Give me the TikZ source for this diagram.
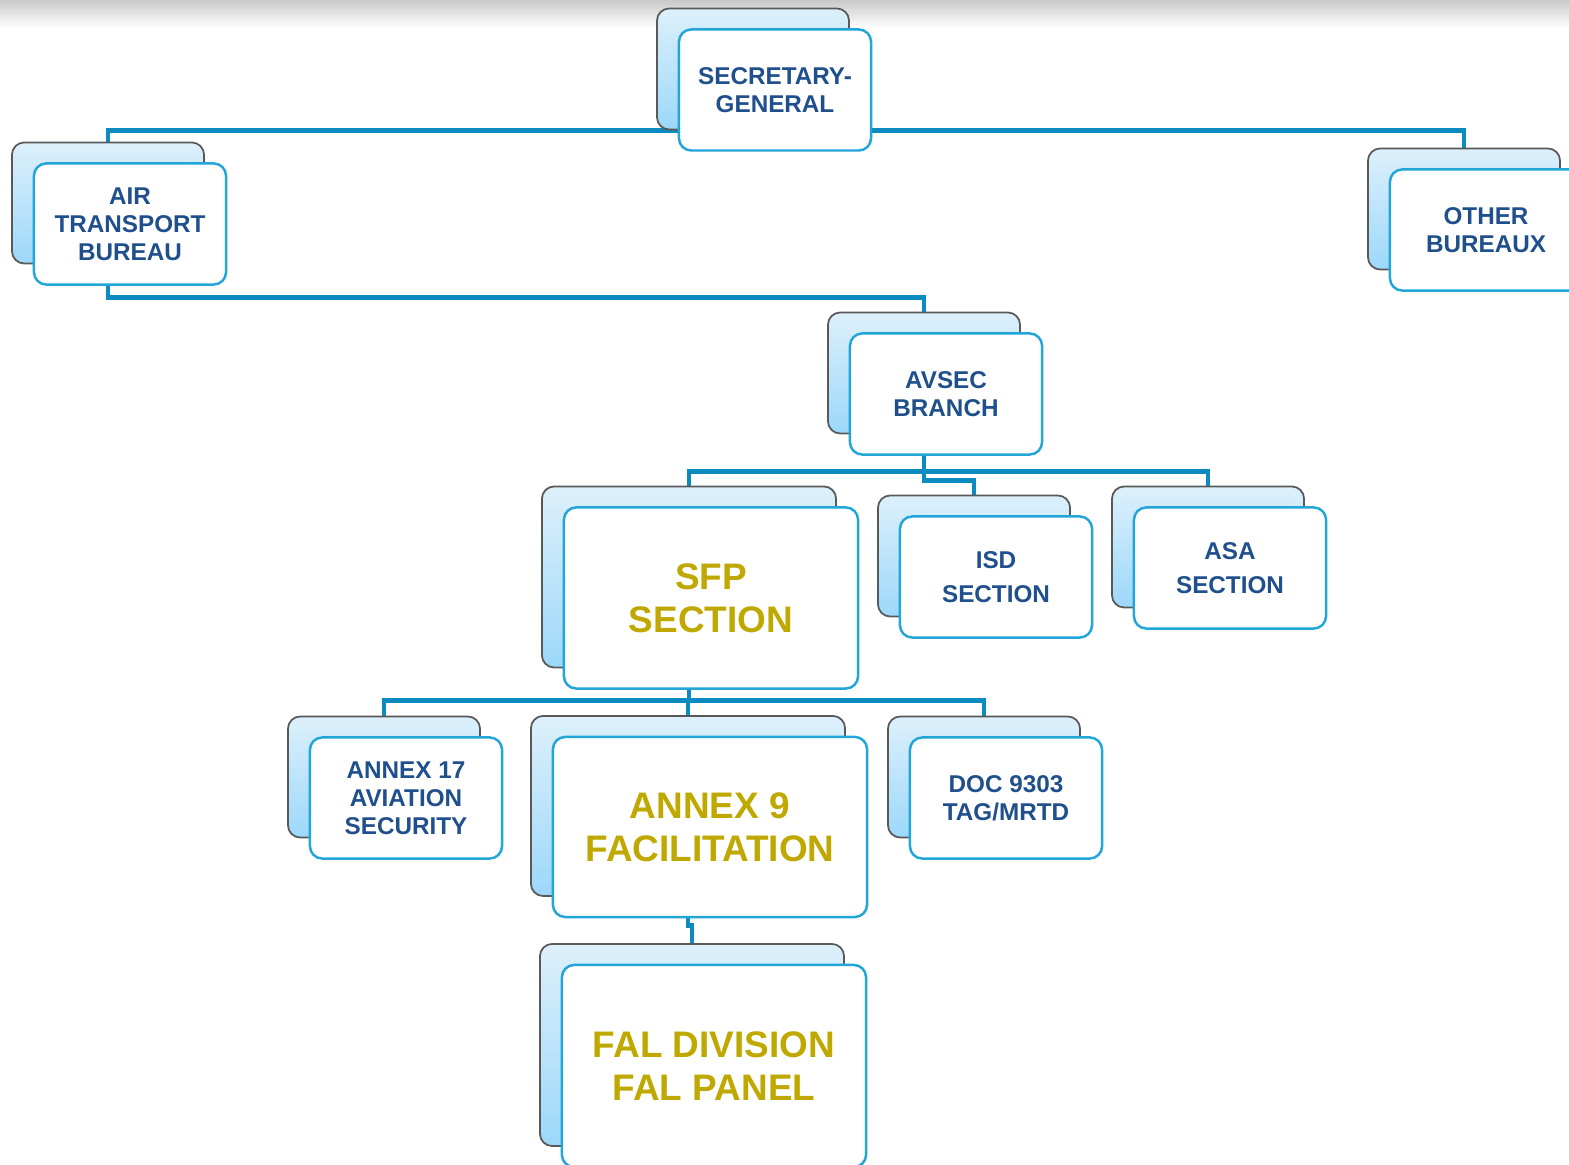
\documentclass[tikz,border=0pt]{standalone}
\usepackage{fontspec}
\setmainfont{Liberation Sans}
\usepackage{tikz}
\definecolor{linkblue}{HTML}{0B8BC0}
\definecolor{frameblue}{HTML}{22A5D8}
\definecolor{textblue}{HTML}{1F4F8C}
\definecolor{textgold}{HTML}{BFA800}
\definecolor{reartop}{HTML}{DDF0FB}
\definecolor{rearbot}{HTML}{9CD8FA}
\pgfdeclarelayer{bg}
\pgfsetlayers{bg,main}

\begin{document}
\begin{tikzpicture}[x=0.01cm,y=-0.01cm]
	\tikzstyle{rear} = [rectangle,rounded corners=3.5pt,draw=gray!70!black,line width=0.5pt,top color=reartop,bottom color=rearbot,minimum width=1.92cm,minimum height=1.21cm,inner sep=0pt]
	\tikzstyle{front} = [rectangle,rounded corners=3.5pt,draw=frameblue,line width=0.7pt,fill=white,minimum width=1.92cm,minimum height=1.21cm,inner sep=0pt,align=center,font=\fontsize{6.9}{8}\selectfont\bfseries,text=textblue]
	\tikzstyle{big} = [font=\fontsize{10.5}{12.2}\selectfont\bfseries,text=textgold]
	\tikzstyle{link} = [draw=linkblue,line width=1.4pt]
	
	\useasboundingbox (0,0) rectangle (1569,1165);
	
	\node[rear] (sgB) at (753,69) {};
	\node[front] (sg) at ([shift={(22,21)}]sgB) {SECRETARY-\\GENERAL};
	
	\node[rear] (atbB) at (108,203) {};
	\node[front] (atb) at ([shift={(22,21)}]atbB) {AIR\\TRANSPORT\\BUREAU};
	
	\node[rear] (othB) at (1464,209) {};
	\node[front] (oth) at ([shift={(22,21)}]othB) {OTHER\\BUREAUX};
	
	\node[rear] (avsB) at (924,373) {};
	\node[front] (avs) at ([shift={(22,21)}]avsB) {AVSEC\\BRANCH};
	
	\node[rear,minimum width=2.94cm,minimum height=1.81cm] (sfpB) at (689,577) {};
	\node[front,big,minimum width=2.94cm,minimum height=1.81cm] (sfp) at ([shift={(22,21)}]sfpB) {SFP\\SECTION};
	
	\node[rear] (isdB) at (974,556) {};
	\node[front,font=\fontsize{6.9}{9.8}\selectfont\bfseries] (isd) at ([shift={(22,21)}]isdB) {ISD\\SECTION};
	
	\node[rear] (asaB) at (1208,547) {};
	\node[front,font=\fontsize{6.9}{9.8}\selectfont\bfseries] (asa) at ([shift={(22,21)}]asaB) {ASA\\SECTION};
	
	\node[rear] (a17B) at (384,777) {};
	\node[front] (a17) at ([shift={(22,21)}]a17B) {ANNEX 17\\AVIATION\\SECURITY};
	
	\node[rear,minimum width=3.14cm,minimum height=1.8cm] (a9B) at (688,806) {};
	\node[front,big,minimum width=3.14cm,minimum height=1.8cm] (a9) at ([shift={(22,21)}]a9B) {ANNEX 9\\FACILITATION};
	
	\node[rear] (docB) at (984,777) {};
	\node[front] (doc) at ([shift={(22,21)}]docB) {DOC 9303\\TAG/MRTD};
	
	\node[rear,minimum width=3.04cm,minimum height=2.02cm] (falB) at (692,1045) {};
	\node[front,big,minimum width=3.04cm,minimum height=2.02cm] (fal) at ([shift={(22,21)}]falB) {FAL DIVISION\\FAL PANEL};
	
	\begin{pgfonlayer}{bg}
		\shade[top color=gray!42,bottom color=white] (0,0) rectangle (1569,28);
		\draw[link] (atbB.north) |- (sgB.south) -| (othB.north);
		\draw[link] (atbB.south) -- ++(0,33) -| (avsB.north);
		\draw[link] (avsB.south) -- ++(0,37) -| (sfpB.north);
		\draw[link] (avsB.south) -- ++(0,37) -| (asaB.north);
		\draw[link] (avsB.south) -- ++(0,46) -| (isdB.north);
		\draw[link] (sfpB.south) -- ++(0,32) -| (a17B.north);
		\draw[link] (sfpB.south) -- ++(0,32) -| (a9B.north);
		\draw[link] (sfpB.south) -- ++(0,32) -| (docB.north);
		\draw[link] (a9B.south) -- ++(0,29) -| (falB.north);
	\end{pgfonlayer}
\end{tikzpicture}
\end{document}
